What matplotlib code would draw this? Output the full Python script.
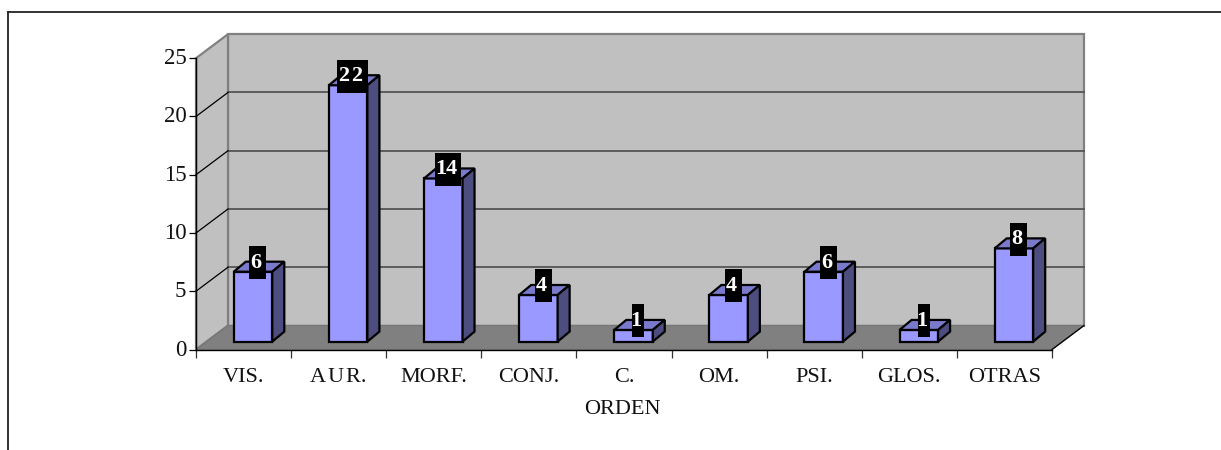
import matplotlib
matplotlib.use('Agg')
import matplotlib.pyplot as plt
from matplotlib.lines import Line2D
from matplotlib.patches import Polygon, Rectangle
from matplotlib.transforms import ScaledTranslation

# -------------------------------------------------------------------------------------------------------------------- #
# Data

categories = ['VIS.', 'A\u200aU\u200aR.', 'MORF.', 'CONJ.', 'C.', 'OM.', 'PSI.', 'GLOS.', 'OTRAS']
values = [6, 22, 14, 4, 1, 4, 6, 1, 8]
y_ticks = [0, 5, 10, 15, 20, 25]
x_title = 'ORDEN'

# -------------------------------------------------------------------------------------------------------------------- #
# Layout

W, H = 1221, 450
X0, X1 = 196, 1052
Y0, Y25 = 349.5, 58.2

PX_X = len(categories) / (X1 - X0)
PX_Y = y_ticks[-1] / (Y0 - Y25)

# oblique depth of the box and of one bar, in data units
DEPTH_X, DEPTH_Y = 32 * PX_X, 24 * PX_Y
BAR_DX, BAR_DY = 12 * PX_X, 10 * PX_Y
BAR_W = 38.5 * PX_X
BAR_SHIFT = 9.5 * PX_X
BAR_LIFT = 7.9 * PX_Y

BOX_H = 33 * PX_Y
box_widths = [17, 31, 26, 17, 12, 17, 17, 12, 17]

plt.rcParams['font.family'] = ['Liberation Serif', 'DejaVu Serif']

fig = plt.figure(figsize=(W / 100, H / 100), dpi=100)
ax = fig.add_axes([X0 / W, 1 - Y0 / H, (X1 - X0) / W, (Y0 - Y25) / H])
ax.set_xlim(0, len(categories))
ax.set_ylim(0, y_ticks[-1])
ax.patch.set_visible(False)
for side in ['top', 'right']:
    ax.spines[side].set_visible(False)
for side in ['left', 'bottom']:
    ax.spines[side].set_linewidth(1.0)
    ax.spines[side].set_zorder(6)

top = y_ticks[-1]
n = len(categories)
wall = '#c0c0c0'
edge = '#808080'

# back wall, side wall, floor
ax.add_patch(Polygon([(DEPTH_X, DEPTH_Y), (n + DEPTH_X, DEPTH_Y), (n + DEPTH_X, top + DEPTH_Y), (DEPTH_X, top + DEPTH_Y)],
                     fc=wall, ec=edge, lw=1.6, clip_on=False, zorder=1))
ax.add_patch(Polygon([(0, 0), (DEPTH_X, DEPTH_Y), (DEPTH_X, top + DEPTH_Y), (0, top)],
                     fc=wall, ec=edge, lw=1.6, clip_on=False, zorder=1))
ax.add_patch(Polygon([(0, 0), (n, 0), (n + DEPTH_X, DEPTH_Y), (DEPTH_X, DEPTH_Y)],
                     fc='#808080', ec='#777777', lw=1.0, clip_on=False, zorder=1.5))
ax.add_line(Line2D([n, n + DEPTH_X], [0, DEPTH_Y], color='black', lw=0.9, clip_on=False, zorder=2))

# gridlines run along the back wall and down the side wall
for t in y_ticks[1:-1]:
    ax.add_line(Line2D([DEPTH_X, n + DEPTH_X], [t + DEPTH_Y, t + DEPTH_Y], color='#555555', lw=1.3,
                       clip_on=False, zorder=2))
    ax.add_line(Line2D([0, DEPTH_X], [t, t + DEPTH_Y], color='black', lw=0.9, clip_on=False, zorder=2))

# bars
for i, v in enumerate(values):
    left = i + 0.5 + BAR_SHIFT - BAR_W / 2
    right = left + BAR_W
    base = BAR_LIFT
    roof = BAR_LIFT + v
    style = dict(ec='black', lw=1.6, joinstyle='miter', clip_on=False, zorder=3)
    ax.add_patch(Rectangle((left, base), BAR_W, v, fc='#9999ff', **style))
    ax.add_patch(Polygon([(left, roof), (right, roof), (right + BAR_DX, roof + BAR_DY), (left + BAR_DX, roof + BAR_DY)],
                         fc='#7a7acc', **style))
    ax.add_patch(Polygon([(right, base), (right + BAR_DX, base + BAR_DY), (right + BAR_DX, roof + BAR_DY), (right, roof)],
                         fc='#4d4d80', **style))

    # value label on a black box, sitting over the back edge of the bar top
    cx = (left + right) / 2 + 4.8 * PX_X
    cy = roof + 0.9 * BAR_DY
    bw = box_widths[i] * PX_X
    label = '\u200a'.join(str(v)) if v == 22 else str(v)
    ax.add_patch(Rectangle((cx - bw / 2, cy - BOX_H / 2), bw, BOX_H, fc='black', ec='none', clip_on=False, zorder=4))
    ax.text(cx - 2 * PX_X, cy + 2.5 * PX_Y, label, color='white', fontsize=16, fontweight='bold', ha='center',
            va='center_baseline', clip_on=False, zorder=5)

ax.set_yticks(y_ticks)
ax.set_xticks(range(n + 1))
ax.set_xticklabels([])
ax.tick_params(axis='y', length=5, width=0.9, pad=2, labelsize=16.5, labelcolor='#111111')
ax.tick_params(axis='x', length=6, width=0.9, color='#333333')

# the value axis numbers sit a little above their ticks
for label in ax.get_yticklabels():
    label.set_transform(label.get_transform() + ScaledTranslation(0, 2 / 100, fig.dpi_scale_trans))

for i, c in enumerate(categories):
    ax.annotate(c, (i + 0.5, 0), xytext=(0, -20.5), xycoords='data', textcoords='offset points',
                ha='center', va='center', fontsize=16, color='#111111', annotation_clip=False)
ax.annotate(x_title, (n / 2, 0), xytext=(-1, -43.5), xycoords='data', textcoords='offset points',
            ha='center', va='center', fontsize=16, color='#111111', annotation_clip=False)

# outer frame, open at the bottom and on the right
for xs, ys in [([8, 8], [450, 12]), ([8, W], [12, 12])]:
    fig.add_artist(Line2D([x / W for x in xs], [1 - y / H for y in ys], color='#222222', lw=1.3))

fig.savefig('out.png', dpi=100)
